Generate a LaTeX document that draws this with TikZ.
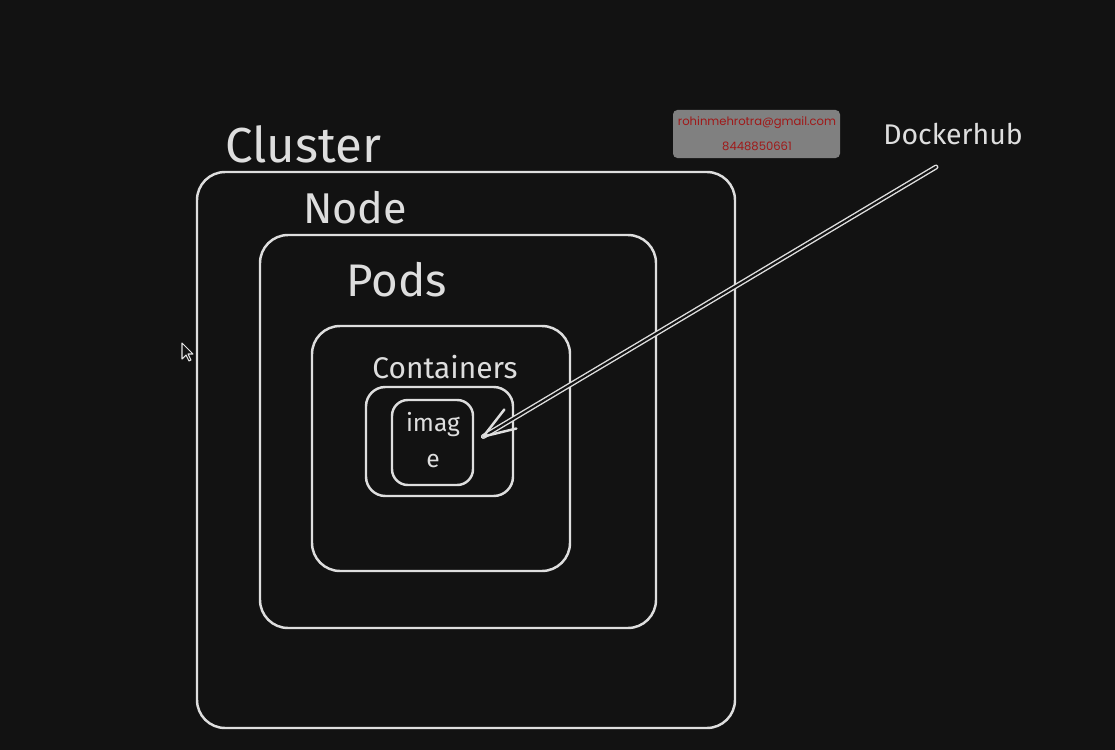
\documentclass[tikz,border=0pt]{standalone}
\usepackage{fontspec}
\setmainfont{Fira Sans}
\newfontfamily\wmfont{Poppins}
\usetikzlibrary{arrows.meta}
\definecolor{bg}{HTML}{121212}
\definecolor{ink}{HTML}{DEDEDE}
\definecolor{wmgray}{HTML}{808080}
\definecolor{wmred}{HTML}{A01818}
\tikzset{
  box/.style={draw=ink, line width=1.4pt, rounded corners=#1},
  box/.default=16pt,
  lbl/.style={text=ink, inner sep=0pt, anchor=center},
}
\begin{document}
\begin{tikzpicture}[x=0.02cm,y=-0.02cm]
\fill[bg] (0,0) rectangle (1115,750);
\useasboundingbox (0,0) rectangle (1115,750);
% boxes
\draw[box] (197,172) rectangle (735,728);
\draw[box] (260,235) rectangle (656,628);
\draw[box] (312,326) rectangle (570,571);
\draw[box=11pt] (366,387) rectangle (513,496);
\draw[box=9pt] (392,400) rectangle (473,485);
\node[minimum width=81*0.02cm, minimum height=85*0.02cm, inner sep=0pt] (img) at (432.5,442.5) {};
% labels
\node[lbl, font=\fontsize{28}{32}\selectfont] (cluster) at (303,144) {Cluster};
\node[lbl, font=\fontsize{24.5}{28}\selectfont] (nodelbl) at (355,208) {Node};
\node[lbl, font=\fontsize{26}{30}\selectfont] (pods) at (397,280) {Pods};
\node[lbl, font=\fontsize{17}{20}\selectfont] (containers) at (445,367) {Containers};
\node[lbl, font=\fontsize{14}{16}\selectfont] (imag) at (433,425) {imag};
\node[lbl, font=\fontsize{14}{16}\selectfont] (e) at (433,461) {e};
\node[lbl, font=\fontsize{16.2}{20}\selectfont] (dockerhub) at (953,134) {Dockerhub};
% watermark
\node[fill=wmgray, rounded corners=2.5pt, minimum width=167*0.02cm, minimum height=48*0.02cm, inner sep=0pt] (wm) at (756.5,134) {};
\node[text=wmred, font=\wmfont\fontsize{6.6}{9}\selectfont, inner sep=0pt] (wm1) at (757,123) {rohinmehrotra@gmail.com};
\node[text=wmred, font=\wmfont\fontsize{6.6}{9}\selectfont, inner sep=0pt] (wm2) at (757,146) {8448850661};
% arrow
\coordinate (src) at (936,167);
\coordinate (tip) at ([xshift=10*0.02cm,yshift=6*0.02cm]img.east);
\draw[ink, line width=0.8pt, double=bg, double distance=1.2pt, line cap=round] (src) -- (tip);
\draw[ink, line width=1.4pt, line cap=round, line join=round] (tip) ++(21,-27) -- (tip) -- ++(33,-8);
% cursor
\draw[ink!80, fill=bg, line width=0.6pt, line join=round] (182,343) -- (182,359) -- (186,355) -- (189,361) -- (191,360) -- (188,354) -- (193,354) -- cycle;
\end{tikzpicture}
\end{document}
